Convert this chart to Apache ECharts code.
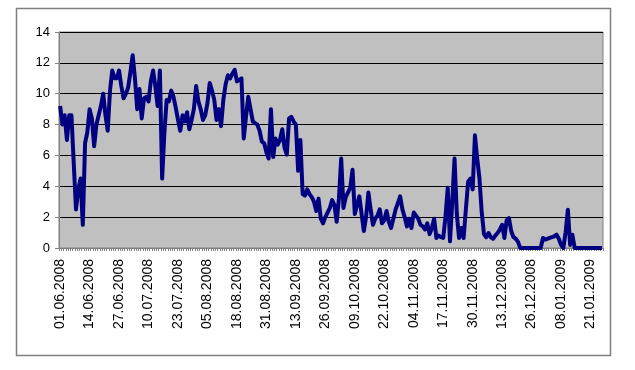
<!DOCTYPE html>
<html>
<head>
<meta charset="utf-8">
<script src="https://cdn.jsdelivr.net/npm/echarts@6/dist/echarts.min.js"></script>
<style>
html,body{margin:0;padding:0;background:#fff;}
#c{width:635px;height:370px;}
</style>
</head>
<body>
<div id="c"></div>
<script>
// Daily categories: 01.06.2008 .. 26.01.2009 (240 days)
var startDate = [2008, 5, 1];
var dayCount = 240;
var dates = [];
for (var k = 0; k < dayCount; k++) {
  var d = new Date(Date.UTC(startDate[0], startDate[1], startDate[2] + k));
  var dd = ('0' + d.getUTCDate()).slice(-2);
  var mm = ('0' + (d.getUTCMonth() + 1)).slice(-2);
  dates.push(dd + '.' + mm + '.' + d.getUTCFullYear());
}

var values = [
  9.2, 8.0, 8.6, 7.0, 8.6, 8.6, 5.5, 2.5, 3.8, 4.5,
  1.5, 6.8, 7.5, 9.0, 8.4, 6.6, 8.0, 8.6, 9.2, 10.0,
  8.6, 7.6, 10.2, 11.5, 11.0, 11.0, 11.5, 10.5, 9.7, 10.0,
  10.4, 11.4, 12.5, 11.0, 9.0, 10.3, 8.4, 9.7, 9.8, 9.5,
  10.8, 11.5, 10.5, 9.2, 11.5, 4.5, 7.5, 9.6, 9.5, 10.2,
  9.8, 9.1, 8.3, 7.6, 8.6, 8.2, 8.8, 7.7, 8.3, 9.0,
  10.5, 9.5, 9.0, 8.3, 8.6, 9.4, 10.7, 10.2, 9.6, 8.3,
  9.0, 7.9, 9.6, 10.6, 11.2, 11.0, 11.3, 11.55, 10.8, 10.9,
  11.0, 7.1, 8.5, 9.8, 9.0, 8.2, 8.1, 8.0, 7.6, 6.9,
  6.8, 6.2, 5.8, 9.0, 5.9, 7.1, 6.7, 7.0, 7.7, 6.5,
  6.05, 8.4, 8.5, 8.2, 8.0, 5.0, 7.0, 3.5, 3.4, 3.8,
  3.5, 3.3, 3.0, 2.4, 3.2, 1.9, 1.6, 2.0, 2.3, 2.6,
  3.1, 2.8, 1.7, 3.2, 5.8, 2.6, 3.3, 3.6, 3.9, 5.07,
  2.2, 2.8, 3.35, 2.2, 1.1, 2.05, 3.6, 2.5, 1.5, 1.9,
  2.1, 2.5, 1.6, 1.8, 2.4, 1.7, 1.3, 1.9, 2.5, 2.9,
  3.35, 2.5, 2.0, 1.4, 1.9, 1.3, 2.3, 2.1, 1.9, 1.5,
  1.4, 1.2, 1.6, 0.9, 1.3, 1.9, 0.65, 0.8, 0.7, 0.65,
  2.0, 3.9, 0.43, 3.0, 5.8, 2.2, 0.65, 1.3, 0.65, 2.5,
  4.3, 4.5, 3.8, 7.3, 5.8, 4.5, 2.3, 0.9, 0.7, 0.97,
  0.7, 0.6, 0.8, 0.97, 1.2, 1.5, 0.65, 1.8, 1.94, 1.1,
  0.7, 0.6, 0.4, 0, 0, 0, 0, 0, 0, 0,
  0, 0, 0, 0.65, 0.54, 0.6, 0.65, 0.7, 0.76, 0.86,
  0.6, 0.2, 0, 1.0, 2.48, 0.2, 0.86, 0, 0, 0,
  0, 0, 0, 0, 0, 0, 0, 0, 0, 0
];

var yTicks = [0, 2, 4, 6, 8, 10, 12, 14];

var chart = echarts.init(document.getElementById('c'), null, {renderer: 'canvas'});
chart.setOption({
  animation: false,
  backgroundColor: '#ffffff',
  graphic: [{
    type: 'rect',
    shape: {x: 16.5, y: 8.5, width: 594, height: 347},
    style: {fill: 'none', stroke: '#808080', lineWidth: 1.5},
    z: 0
  }],
  grid: {
    left: 59, right: 32, top: 32, bottom: 122,
    show: true, backgroundColor: '#c0c0c0', borderColor: '#808080', borderWidth: 1
  },
  xAxis: {
    type: 'category',
    data: dates,
    boundaryGap: true,
    axisLine: {show: true, lineStyle: {color: '#808080', width: 1}},
    axisTick: {show: true, interval: 0, length: 3, inside: false, lineStyle: {color: '#808080'}},
    axisLabel: {
      interval: 12, rotate: 90, margin: 11,
      fontFamily: 'Liberation Sans, Arial, sans-serif', fontSize: 14, color: '#000'
    },
    splitLine: {show: false}
  },
  yAxis: {
    type: 'value',
    min: yTicks[0], max: yTicks[yTicks.length - 1], interval: 2,
    axisLine: {show: true, lineStyle: {color: '#808080', width: 1}},
    axisTick: {show: true, length: 4, lineStyle: {color: '#808080'}},
    axisLabel: {
      margin: 9, fontFamily: 'Liberation Sans, Arial, sans-serif', fontSize: 13, color: '#000'
    },
    splitLine: {show: true, lineStyle: {color: '#000000', width: 1}}
  },
  series: [{
    type: 'line',
    data: values,
    showSymbol: false,
    symbol: 'none',
    lineStyle: {color: '#000080', width: 4, join: 'round'},
    itemStyle: {color: '#000080'}
  }]
});
</script>
</body>
</html>
